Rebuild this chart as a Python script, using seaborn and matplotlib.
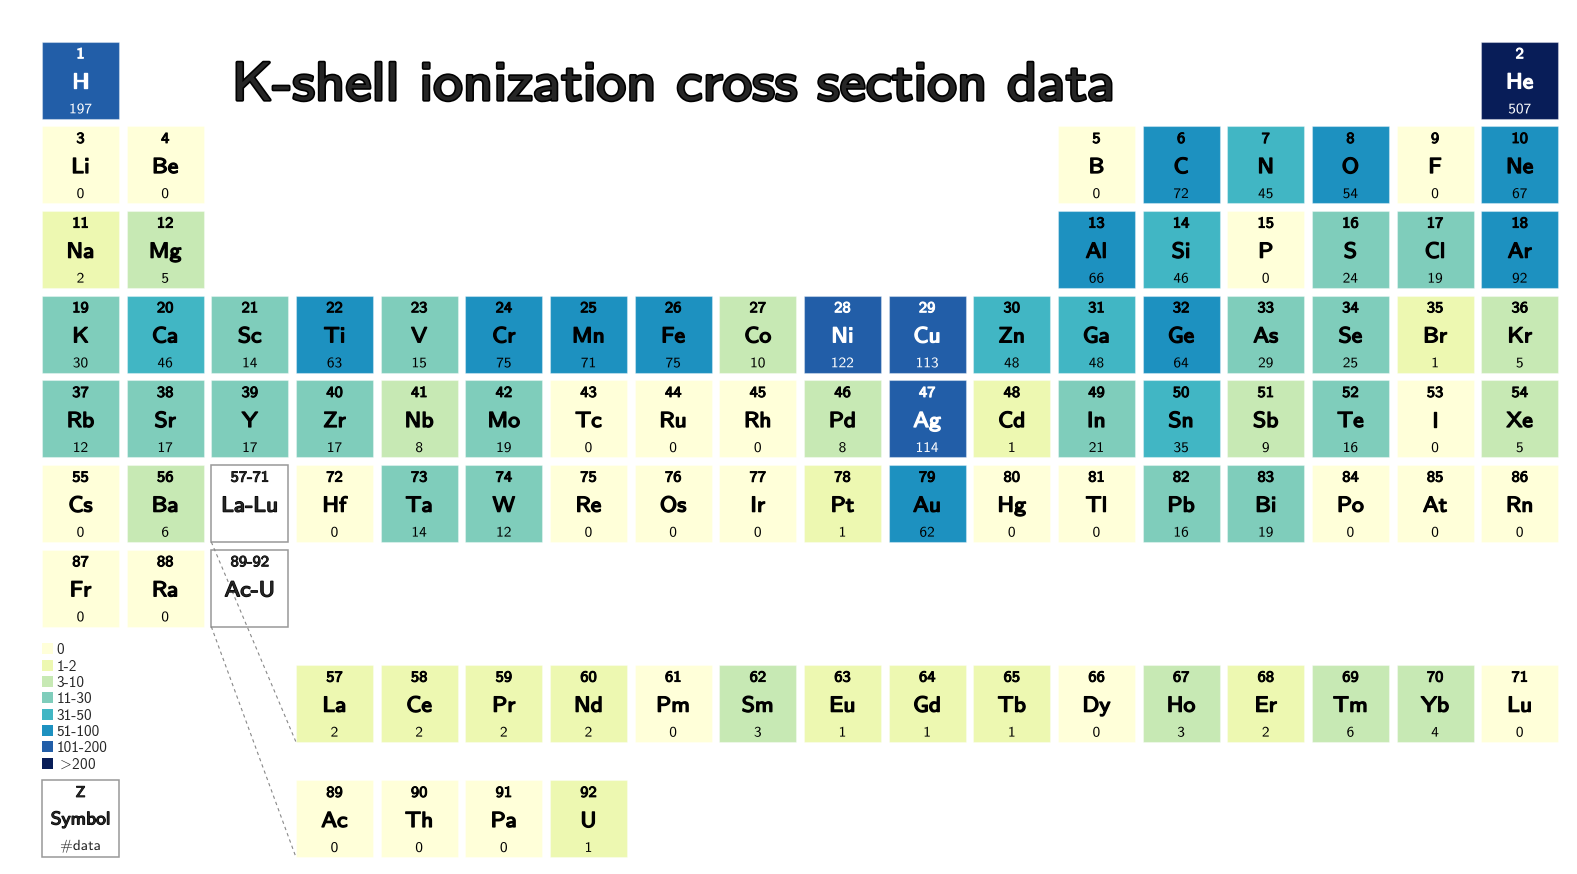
import numpy as np
import matplotlib
matplotlib.use("Agg")
import matplotlib.pyplot as plt
import matplotlib.patheffects as pe
from matplotlib.patches import Rectangle
from matplotlib.transforms import Affine2D
import seaborn as sns

# ---------------- data ----------------
symbols = ["H", "He", "Li", "Be", "B", "C", "N", "O", "F", "Ne",
           "Na", "Mg", "Al", "Si", "P", "S", "Cl", "Ar",
           "K", "Ca", "Sc", "Ti", "V", "Cr", "Mn", "Fe", "Co", "Ni", "Cu", "Zn",
           "Ga", "Ge", "As", "Se", "Br", "Kr",
           "Rb", "Sr", "Y", "Zr", "Nb", "Mo", "Tc", "Ru", "Rh", "Pd", "Ag", "Cd",
           "In", "Sn", "Sb", "Te", "I", "Xe",
           "Cs", "Ba", "La", "Ce", "Pr", "Nd", "Pm", "Sm", "Eu", "Gd", "Tb", "Dy",
           "Ho", "Er", "Tm", "Yb", "Lu", "Hf", "Ta", "W", "Re", "Os", "Ir", "Pt",
           "Au", "Hg", "Tl", "Pb", "Bi", "Po", "At", "Rn",
           "Fr", "Ra", "Ac", "Th", "Pa", "U"]
counts = [197, 507, 0, 0, 0, 72, 45, 54, 0, 67,
          2, 5, 66, 46, 0, 24, 19, 92,
          30, 46, 14, 63, 15, 75, 71, 75, 10, 122, 113, 48,
          48, 64, 29, 25, 1, 5,
          12, 17, 17, 17, 8, 19, 0, 0, 0, 8, 114, 1,
          21, 35, 9, 16, 0, 5,
          0, 6, 2, 2, 2, 2, 0, 3, 1, 1, 1, 0,
          3, 2, 6, 4, 0, 0, 14, 12, 0, 0, 0, 1,
          62, 0, 0, 16, 19, 0, 0, 0,
          0, 0, 0, 0, 0, 1]
bin_labels = ["0", "1-2", "3-10", "11-30", "31-50", "51-100", "101-200", r"$>\!$200"]
bin_edges = [1, 3, 11, 31, 51, 101, 201]
title = "K-shell ionization cross section data"

# ---------------- style ----------------
sns.set_theme(style="white")
plt.rcParams["font.family"] = ["cmss10", "DejaVu Sans"]
plt.rcParams["mathtext.fontset"] = "cm"
plt.rcParams["axes.unicode_minus"] = False
palette = sns.color_palette(["#ffffd9", "#edf8b1", "#c7e9b4", "#7fcdbb",
                             "#41b6c4", "#1d91c0", "#225ea8", "#081d58"])

# layout (pixel units)
X0, Y0, PITCH, CELL = 42.0, 41.7, 84.66, 77.0
F_ROWS = {"La": 665.0, "Ac": 780.3}


class BoldWide(pe.AbstractPathEffect):
    """Emulate a bold-extended sans: widen glyphs about their centre and stroke them."""

    def __init__(self, sx=1.1, lw=0.9, color="black"):
        super().__init__()
        self.sx, self.lw, self.color = sx, lw, color

    def draw_path(self, renderer, gc, tpath, affine, rgbFace=None):
        ext = tpath.get_extents()
        cx = 0.5 * (ext.x0 + ext.x1)
        t = Affine2D().translate(-cx, 0).scale(self.sx, 1).translate(cx, 0) + affine
        if self.lw > 0:
            gc0 = renderer.new_gc()
            gc0.copy_properties(gc)
            gc0.set_linewidth(self.lw)
            gc0.set_foreground(self.color)
            gc0.set_joinstyle("round")
            renderer.draw_path(gc0, tpath, t, rgbFace)
            gc0.restore()
        renderer.draw_path(gc, tpath, t, rgbFace)


def position(z):
    """(column, row) for element with atomic number z"""
    if z == 1:
        return 1, 1
    if z == 2:
        return 18, 1
    if z <= 4:
        return z - 2, 2
    if z <= 10:
        return z + 8, 2
    if z <= 12:
        return z - 10, 3
    if z <= 18:
        return z, 3
    if z <= 36:
        return z - 18, 4
    if z <= 54:
        return z - 36, 5
    if z <= 56:
        return z - 54, 6
    if z <= 71:
        return z - 53, "La"
    if z <= 86:
        return z - 68, 6
    if z <= 88:
        return z - 86, 7
    return z - 85, "Ac"


def xy(col, row):
    x = X0 + PITCH * (col - 1)
    y = F_ROWS[row] if isinstance(row, str) else Y0 + PITCH * (row - 1)
    return x, y


def zfx(c="black"):
    return [BoldWide(1.08, 0.7, c)]


def symfx(c="black"):
    return [BoldWide(1.1, 1.0, c)]


def regfx(c="black"):
    return [BoldWide(1.05, 0.0, c)]


fig = plt.figure(figsize=(15.77, 8.74), dpi=100)
ax = fig.add_axes([0, 0, 1, 1])
ax.set_xlim(0, 1577)
ax.set_ylim(874, 0)
ax.axis("off")

bins = np.digitize(counts, bin_edges)
for i, (sym, n) in enumerate(zip(symbols, counts)):
    z = i + 1
    col, row = position(z)
    x, y = xy(col, row)
    b = bins[i]
    fc = palette[b]
    tc = "white" if b >= 6 else "black"
    ax.add_patch(Rectangle((x, y), CELL, CELL, facecolor=fc,
                           edgecolor=(1, 1, 1, 0.35), lw=0.8))
    cx = x + CELL / 2
    ax.text(cx, y + 16.6, str(z), ha="center", va="baseline", fontsize=11,
            color=tc, path_effects=zfx(tc))
    ax.text(cx, y + 46.6, sym, ha="center", va="baseline", fontsize=15.5,
            color=tc, path_effects=symfx(tc))
    ax.text(cx, y + 71.6, str(n), ha="center", va="baseline", fontsize=10.5,
            color=tc, path_effects=regfx(tc))

# placeholder boxes for the f-block
gray = "#999999"
for (col, row, zr, sr, frow, fcol) in [(3, 6, "57-71", "La-Lu", "La", 4),
                                        (3, 7, "89-92", "Ac-U", "Ac", 4)]:
    x, y = xy(col, row)
    ax.add_patch(Rectangle((x, y), CELL, CELL, facecolor="white",
                           edgecolor=gray, lw=1.1))
    cx = x + CELL / 2
    ax.text(cx, y + 16.6, zr, ha="center", va="baseline", fontsize=11,
            path_effects=zfx())
    ax.text(cx, y + 46.6, sr, ha="center", va="baseline", fontsize=15.5,
            path_effects=symfx())
    fx, fy = xy(fcol, frow)
    ax.plot([x, fx], [y + CELL, fy + CELL], color="#888888", lw=0.8,
            ls=(0, (3, 3)))

# key box
kx, ky = xy(1, "Ac")
ax.add_patch(Rectangle((kx, ky), CELL, CELL, facecolor="white",
                       edgecolor=gray, lw=1.1))
ax.text(kx + CELL / 2, ky + 16.6, "Z", ha="center", va="baseline",
        fontsize=11, path_effects=zfx())
ax.text(kx + CELL / 2, ky + 44.0, "Symbol", ha="center", va="baseline",
        fontsize=13, path_effects=[BoldWide(1.08, 0.9, "black")])
ax.text(kx + CELL / 2, ky + 69.6, "#data", ha="center", va="baseline",
        fontsize=10.5, path_effects=regfx())

# legend
for i, lab in enumerate(bin_labels):
    ly = 643.3 + 16.35 * i
    ax.add_patch(Rectangle((42, ly), 11, 11, facecolor=palette[i],
                           edgecolor="none"))
    ax.text(56.7, ly + 11, lab, ha="left", va="baseline", fontsize=11)

# title
ax.text(673, 100, title, ha="center", va="baseline", fontsize=39,
        path_effects=[BoldWide(1.09, 2.4, "black")])

fig.savefig("out.png", dpi=100)
